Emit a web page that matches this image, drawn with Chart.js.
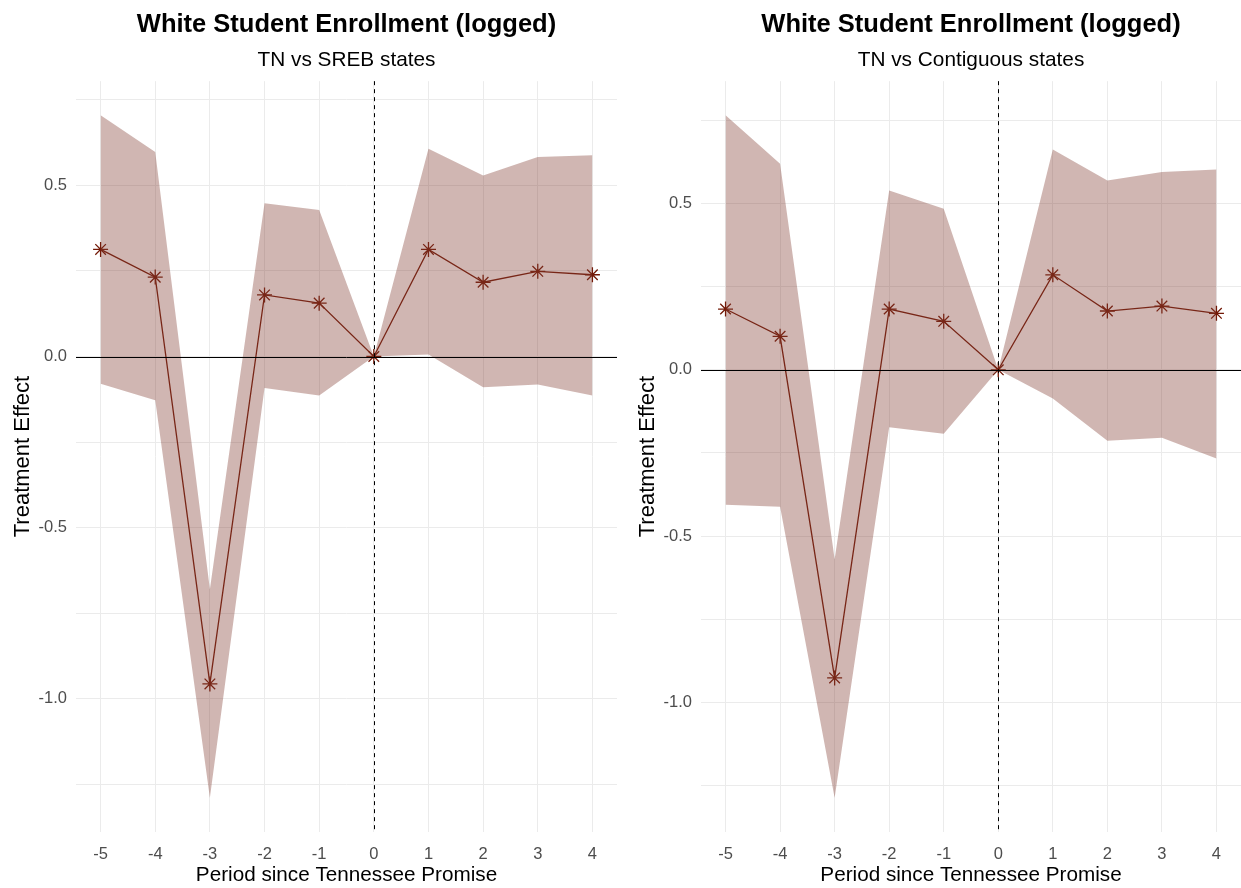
<!DOCTYPE html>
<html>
<head>
<meta charset="utf-8">
<title>White Student Enrollment (logged)</title>
<script src="https://cdn.jsdelivr.net/npm/chart.js@4.4.1/dist/chart.umd.min.js"></script>
<style>
  html, body { margin: 0; padding: 0; background: #fff; }
  #wrap { position: relative; width: 1241px; height: 888px; }
  .panel { position: absolute; top: 0; height: 888px; }
  #left { left: 0; width: 620px; }
  #right { left: 620px; width: 621px; }
</style>
</head>
<body>
<div id="wrap">
  <div class="panel" id="left"><canvas id="chartSreb"></canvas></div>
  <div class="panel" id="right"><canvas id="chartContig"></canvas></div>
</div>
<script>
const periods = [-5, -4, -3, -2, -1, 0, 1, 2, 3, 4];

// TN vs SREB states
const srebEffect = [0.313, 0.232, -0.957, 0.180, 0.156, 0, 0.313, 0.217, 0.249, 0.239];
const srebUpper  = [0.705, 0.598, -0.680, 0.448, 0.428, 0, 0.607, 0.529, 0.583, 0.588];
const srebLower  = [-0.080, -0.128, -1.290, -0.092, -0.114, 0, 0.006, -0.090, -0.082, -0.114];

// TN vs Contiguous states
const contigEffect = [0.183, 0.101, -0.927, 0.183, 0.146, 0, 0.286, 0.177, 0.192, 0.170];
const contigUpper  = [0.766, 0.620, -0.570, 0.540, 0.485, 0, 0.663, 0.570, 0.595, 0.603];
const contigLower  = [-0.406, -0.412, -1.288, -0.173, -0.192, 0, -0.086, -0.213, -0.204, -0.267];

const yTickLabels = [-1.0, -0.5, 0.0, 0.5];
const yMinorBreaks = [-1.25, -0.75, -0.25, 0.25, 0.75];

const FONT = '"Liberation Sans", Arial, sans-serif';
const bandFill = 'rgba(131, 64, 52, 0.38)';
const lineColor = '#721806';
const gridColor = '#ebebeb';

function toPoints(ys) {
  return periods.map((p, i) => ({ x: p, y: ys[i] }));
}

// ggplot-style 5% padding around the data range
function expand(lo, hi) {
  const pad = (hi - lo) * 0.05;
  return [lo - pad, hi + pad];
}

// solid line at zero effect, dashed line at the policy start
const refLines = {
  id: 'refLines',
  afterDatasetsDraw(chart) {
    const { ctx, chartArea: a, scales: { x, y } } = chart;
    ctx.save();
    ctx.strokeStyle = '#000';
    ctx.lineWidth = 1;
    const y0 = Math.round(y.getPixelForValue(0)) + 0.5;
    ctx.beginPath();
    ctx.moveTo(a.left, y0);
    ctx.lineTo(a.right, y0);
    ctx.stroke();
    const x0 = Math.round(x.getPixelForValue(0)) + 0.5;
    ctx.setLineDash([4, 4]);
    ctx.beginPath();
    ctx.moveTo(x0, a.top);
    ctx.lineTo(x0, a.bottom);
    ctx.stroke();
    ctx.restore();
  }
};

function makeChart(id, subtitle, effect, upper, lower, axisWidth, yTitlePad, padRight) {
  const xRange = expand(Math.min(...periods), Math.max(...periods));
  const yRange = expand(Math.min(...lower), Math.max(...upper));
  const yBreaks = [...yMinorBreaks, ...yTickLabels].sort((a, b) => a - b);

  return new Chart(document.getElementById(id), {
    type: 'line',
    data: {
      datasets: [
        { data: toPoints(upper), fill: '+1', backgroundColor: bandFill, borderWidth: 0, pointRadius: 0, tension: 0 },
        { data: toPoints(lower), fill: false, borderWidth: 0, pointRadius: 0, tension: 0 },
        {
          data: toPoints(effect),
          fill: false,
          borderColor: lineColor,
          borderWidth: 1.3,
          pointStyle: 'star',
          pointRadius: 7.5,
          pointBorderColor: lineColor,
          pointBackgroundColor: lineColor,
          pointBorderWidth: 1.3,
          tension: 0
        }
      ]
    },
    options: {
      responsive: true,
      maintainAspectRatio: false,
      animation: false,
      layout: { autoPadding: false, padding: { right: padRight } },
      plugins: {
        legend: { display: false },
        tooltip: { enabled: false },
        title: {
          display: true,
          text: 'White Student Enrollment (logged)',
          fullSize: false,
          color: '#000',
          font: { family: FONT, size: 25.5, weight: 'bold' },
          padding: { top: 10, bottom: 7 }
        },
        subtitle: {
          display: true,
          text: subtitle,
          fullSize: false,
          color: '#000',
          font: { family: FONT, size: 20.8 },
          padding: { top: 0, bottom: 8.6 }
        }
      },
      scales: {
        x: {
          type: 'linear',
          min: xRange[0],
          max: xRange[1],
          afterBuildTicks: ax => { ax.ticks = periods.map(v => ({ value: v })); },
          afterFit: ax => { ax.height = 56; },
          grid: { color: gridColor, drawTicks: false },
          border: { display: false },
          ticks: {
            color: '#4d4d4d',
            font: { family: FONT, size: 16.5 },
            padding: 13,
            callback: v => String(v)
          },
          title: {
            display: true,
            text: 'Period since Tennessee Promise',
            color: '#000',
            font: { family: FONT, size: 20.7 },
            padding: { top: 0, bottom: 0 }
          }
        },
        y: {
          min: yRange[0],
          max: yRange[1],
          afterBuildTicks: ax => { ax.ticks = yBreaks.map(v => ({ value: v })); },
          afterFit: ax => { ax.width = axisWidth; },
          grid: { color: gridColor, drawTicks: false },
          border: { display: false },
          ticks: {
            color: '#4d4d4d',
            font: { family: FONT, size: 16.5 },
            padding: 9,
            autoSkip: false,
            callback: v => yTickLabels.includes(v) ? v.toFixed(1) : ''
          },
          title: {
            display: true,
            text: 'Treatment Effect',
            color: '#000',
            font: { family: FONT, size: 22 },
            padding: { top: yTitlePad, bottom: 0 }
          }
        }
      }
    },
    plugins: [refLines]
  });
}

makeChart('chartSreb', 'TN vs SREB states', srebEffect, srebUpper, srebLower, 76, 10, 3);
makeChart('chartContig', 'TN vs Contiguous states', contigEffect, contigUpper, contigLower, 81, 15, 0);
</script>
</body>
</html>
